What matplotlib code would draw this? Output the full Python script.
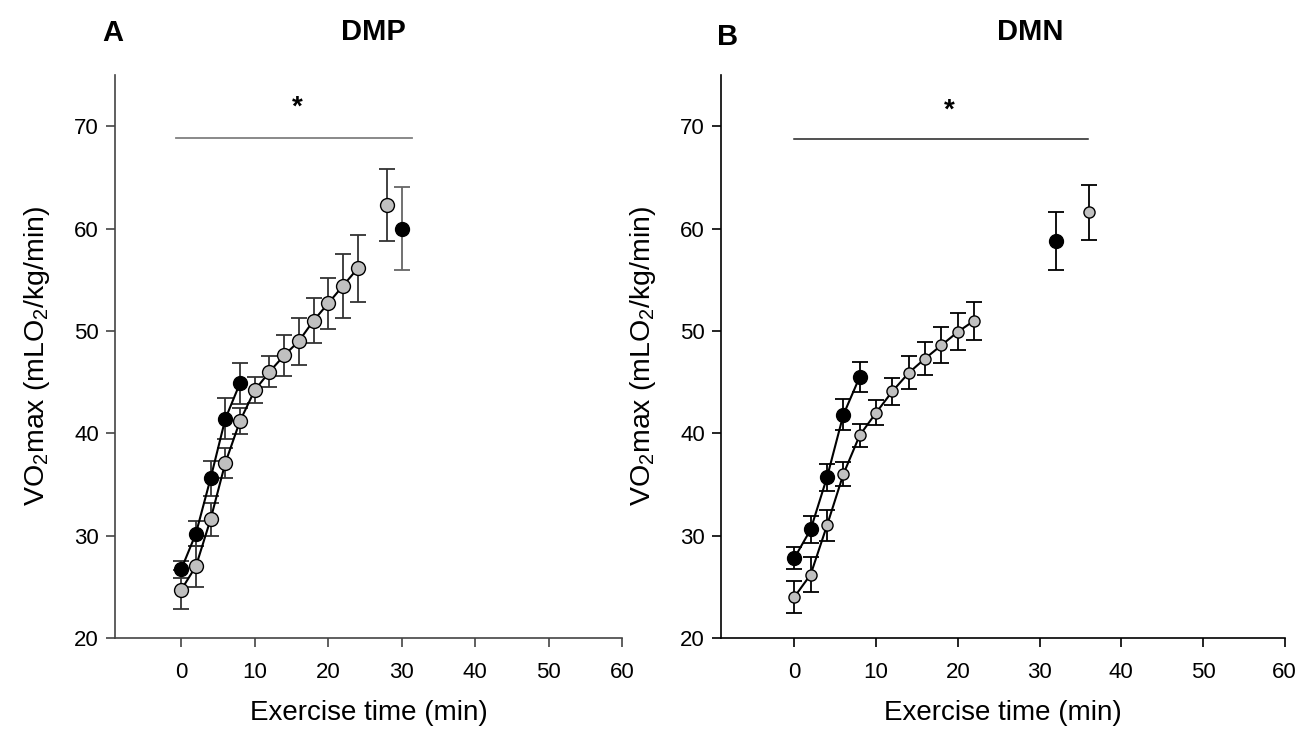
import matplotlib
matplotlib.use("Agg")
import matplotlib.pyplot as plt

plt.rcParams['font.family'] = ['Liberation Sans', 'DejaVu Sans']
plt.rcParams['mathtext.fontset'] = 'custom'
plt.rcParams['mathtext.rm'] = 'Liberation Sans'
plt.rcParams['mathtext.it'] = 'Liberation Sans:italic'

# Panel A - DMP
dmp_black_t = [0, 2, 4, 6, 8]
dmp_black_v = [26.7, 30.2, 35.6, 41.4, 44.9]
dmp_black_e = [0.8, 1.2, 1.7, 2.0, 2.0]
dmp_black_end_t = [30]
dmp_black_end_v = [60.0]
dmp_black_end_e = [4.1]

dmp_gray_t = [0, 2, 4, 6, 8, 10, 12, 14, 16, 18, 20, 22, 24]
dmp_gray_v = [24.7, 27.0, 31.6, 37.1, 41.2, 44.2, 46.0, 47.6, 49.0, 51.0, 52.7, 54.4, 56.1]
dmp_gray_e = [1.9, 2.0, 1.6, 1.5, 1.3, 1.25, 1.5, 2.0, 2.3, 2.2, 2.5, 3.1, 3.3]
dmp_gray_end_t = [28]
dmp_gray_end_v = [62.3]
dmp_gray_end_e = [3.5]

# Panel B - DMN
dmn_black_t = [0, 2, 4, 6, 8]
dmn_black_v = [27.8, 30.6, 35.7, 41.8, 45.5]
dmn_black_e = [1.1, 1.35, 1.3, 1.5, 1.5]
dmn_black_end_t = [32]
dmn_black_end_v = [58.8]
dmn_black_end_e = [2.85]

dmn_gray_t = [0, 2, 4, 6, 8, 10, 12, 14, 16, 18, 20, 22]
dmn_gray_v = [24.0, 26.2, 31.0, 36.0, 39.8, 42.0, 44.1, 45.9, 47.3, 48.6, 49.9, 51.0]
dmn_gray_e = [1.6, 1.7, 1.5, 1.2, 1.15, 1.2, 1.3, 1.6, 1.65, 1.75, 1.8, 1.85]
dmn_gray_end_t = [36]
dmn_gray_end_v = [61.6]
dmn_gray_end_e = [2.7]

xticks = [0, 10, 20, 30, 40, 50, 60]
yticks = [20, 30, 40, 50, 60, 70]
gray = '#c0c0c0'


def style_axes(ax, spine_col):
    ax.set_xlim(-9, 60)
    ax.set_ylim(20, 75)
    ax.set_xticks(xticks)
    ax.set_yticks(yticks)
    for s in ['top', 'right']:
        ax.spines[s].set_visible(False)
    for s in ['left', 'bottom']:
        ax.spines[s].set_color(spine_col)
        ax.spines[s].set_linewidth(1.2)
    ax.spines['bottom'].set_bounds(-9, 60)
    ax.tick_params(direction='out', length=6.5, width=1.2, colors=spine_col,
                   labelcolor='black', labelsize=16)
    ax.tick_params(axis='x', pad=11)
    ax.tick_params(axis='y', pad=5)
    ax.set_xlabel('Exercise time (min)', fontsize=20, labelpad=12)
    ax.set_ylabel('VO$_2$max (mLO$_2$/kg/min)', fontsize=20.5, labelpad=16)


def series(ax, t, v, e, face, ms, ecol, line=True):
    ax.errorbar(t, v, yerr=e, fmt='none', ecolor=ecol, elinewidth=1.3,
                capsize=6, capthick=1.3, zorder=2)
    ax.plot(t, v, '-' if line else 'none', color='black', lw=1.5,
            marker='o', ms=ms, mfc=face, mec='black', mew=1.0, zorder=3)


fig = plt.figure(figsize=(13.01, 7.35), dpi=100)
axA = fig.add_axes([0.0884, 0.132, 0.390, 0.766])
axB = fig.add_axes([0.554, 0.132, 0.4335, 0.766])

# Panel A
series(axA, dmp_gray_t, dmp_gray_v, dmp_gray_e, gray, 10, '#333333')
series(axA, dmp_gray_end_t, dmp_gray_end_v, dmp_gray_end_e, gray, 10, '#333333', line=False)
series(axA, dmp_black_t, dmp_black_v, dmp_black_e, 'black', 10, '#333333')
series(axA, dmp_black_end_t, dmp_black_end_v, dmp_black_end_e, 'black', 10, '#666666', line=False)
axA.plot([-0.7, 31.4], [68.8, 68.8], color='#808080', lw=1.3)
axA.text(15.8, 71.8, '*', ha='center', va='center', fontsize=20, fontweight='bold')
style_axes(axA, '#444444')

# Panel B
series(axB, dmn_gray_t, dmn_gray_v, dmn_gray_e, gray, 8, 'black')
series(axB, dmn_gray_end_t, dmn_gray_end_v, dmn_gray_end_e, gray, 8, 'black', line=False)
series(axB, dmn_black_t, dmn_black_v, dmn_black_e, 'black', 10, 'black')
series(axB, dmn_black_end_t, dmn_black_end_v, dmn_black_end_e, 'black', 10, 'black', line=False)
axB.plot([0, 35.9], [68.7, 68.7], color='#222222', lw=1.1)
axB.text(19, 71.5, '*', ha='center', va='center', fontsize=20, fontweight='bold')
style_axes(axB, 'black')

fig.text(0.079, 0.955, 'A', fontsize=21, fontweight='bold', ha='left', va='center')
fig.text(0.287, 0.957, 'DMP', fontsize=21, fontweight='bold', ha='center', va='center')
fig.text(0.551, 0.950, 'B', fontsize=21, fontweight='bold', ha='left', va='center')
fig.text(0.792, 0.957, 'DMN', fontsize=21, fontweight='bold', ha='center', va='center')

fig.savefig('out.png', dpi=100)
